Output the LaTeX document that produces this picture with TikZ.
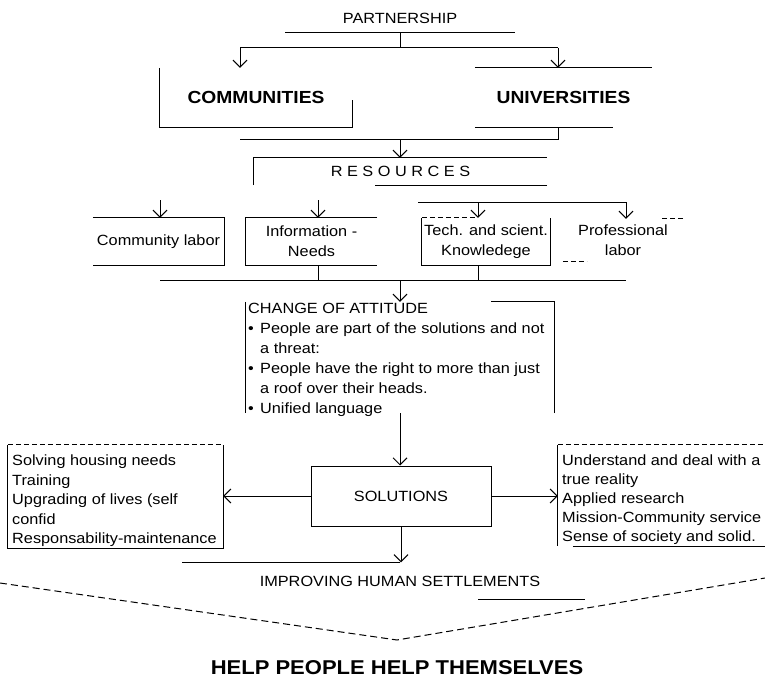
\documentclass[tikz,border=0pt]{standalone}
\usepackage{fontspec}
\setmainfont{Liberation Sans}[FakeStretch=1.1]
\usetikzlibrary{arrows.meta, positioning, calc}
\tikzset{
    wire/.style={line width=1pt, black},
    brokenwire/.style={wire, dash pattern=on 5pt off 3pt},
    linkarrow/.style={wire, -{Straight Barb[length=7pt, width=14pt, line width=1pt]}},
    frame/.style={inner sep=0pt},
    txt/.style={font=\fontsize{14.8}{20}\selectfont, align=center, inner sep=0pt},
    listtxt/.style={font=\fontsize{14.8}{19.5}\selectfont, align=left, inner sep=0pt, anchor=north west},
    heading/.style={font=\fontsize{17.5}{21}\selectfont\bfseries, inner sep=0pt},
}
\newcommand{\attbullet}{\makebox[12pt][l]{\textbullet}}

\begin{document}
\begin{tikzpicture}[x=1pt, y=-1pt]
\fill[white] (0,0) rectangle (765,679);
\useasboundingbox (0,0) rectangle (765,679);

% Partnership and the two partners
\node[txt, minimum width=229pt, minimum height=28pt] (part) at (400,18) {PARTNERSHIP};
\draw[wire] (part.south west) -- (part.south east);

\node[heading, minimum width=192pt, minimum height=59pt] (comm) at (256,97.5) {COMMUNITIES};
\node[heading, minimum width=177pt, minimum height=59pt] (univ) at (563.5,97.5) {UNIVERSITIES};
\draw[wire] (comm.north west) |- (comm.south east) -- ++(0,-27);
\draw[wire] (univ.north west) -- (univ.north east);
\draw[wire] (univ.south west) -- ++(138,0);

\coordinate (lvl1) at (400,48);
\coordinate (lvl1w) at (240,48);
\coordinate (lvl1e) at (558,48);
\draw[wire] (part.south) -- (lvl1);
\draw[wire] (lvl1w) -- (lvl1e);
\draw[linkarrow] (lvl1w) -- (lvl1w |- comm.north);
\draw[linkarrow] (lvl1e) -- (lvl1e |- univ.north);

% Resources
\coordinate (lvl2) at (400,140);
\coordinate (lvl2w) at (240,140);
\coordinate (lvl2e) at (558,140);
\draw[wire] (univ.south -| lvl2e) -- (lvl2e);
\draw[wire] (lvl2w) -- (lvl2e);

\node[txt, minimum width=293pt, minimum height=27pt] (res) at (400.5,171.5) {R E S O U R C E S};
\draw[linkarrow] (lvl2) -- (lvl2 |- res.north);
\draw[wire] (res.south west) |- (res.north east);
\draw[wire] (res.south east) -- ++(-172,0);

% Row of resources
\node[txt, minimum width=131pt, minimum height=47pt] (labor) at (158.5,241.5) {Community labor};
\node[txt, minimum width=131pt, minimum height=47pt] (info) at (311.5,241.5) {Information -\\Needs};
\node[txt, minimum width=128pt, minimum height=47pt] (tech) at (486,241.5) {Tech. and scient.\\Knowledege};
\node[txt, minimum width=120pt, minimum height=42pt] (prof) at (623,240) {Professional\\labor};

\draw[wire] (labor.north west) -- (labor.north east) |- (labor.south west);
\draw[wire] (info.north east) -- (info.north west) |- (info.south east);
\draw[wire] (tech.north west) |- (tech.south east) -- (tech.north east);
\draw[brokenwire] (tech.north west) -- ++(55,0);
\draw[brokenwire] (prof.south west) -- ++(24,0);
\draw[brokenwire] (prof.north east) -- ++(-22,0);

\coordinate (lvl3a) at (160,200);
\coordinate (lvl3b) at (318,200);
\coordinate (lvl3c) at (478,202);
\coordinate (lvl3d) at (626,202);
\draw[wire] (lvl3c) ++(-60,0) -- (lvl3d);
\foreach \c/\n in {lvl3a/labor, lvl3b/info, lvl3c/tech, lvl3d/prof}
    \draw[linkarrow] (\c) -- (\c |- \n.north);

\coordinate (lvl4) at (400,280);
\coordinate (lvl4w) at (160,280);
\coordinate (lvl4e) at (626,280);
\draw[wire] (lvl4w) -- (lvl4e);
\draw[wire] (info.south -| lvl3b) -- (lvl3b |- lvl4);
\draw[wire] (tech.south -| lvl3c) -- (lvl3c |- lvl4);

% Change of attitude
\node[frame, minimum width=308pt, minimum height=111pt] (att) at (400,357.5) {};
\draw[linkarrow] (lvl4) -- (lvl4 |- att.north);
\draw[wire] (att.north west) -- (att.south west);
\draw[wire] (att.south east) -- (att.north east) -- ++(-63,0);
\node[listtxt, font=\fontsize{14.8}{20}\selectfont] (attlist) at (248,303) {CHANGE OF ATTITUDE\\
\attbullet People are part of the solutions and not\\
\hspace*{12pt}a threat:\\
\attbullet People have the right to more than just\\
\hspace*{12pt}a roof over their heads.\\
\attbullet Unified language};

% Solutions and what each partner gains
\node[txt, draw, line width=1pt, minimum width=180pt, minimum height=60pt] (sol) at (401,496) {SOLUTIONS};
\draw[linkarrow] (att.south) -- (att.south |- sol.north);

\node[frame, minimum width=215pt, minimum height=103pt] (need) at (115.5,496.5) {};
\node[listtxt] (needlist) at (12,455) {Solving housing needs\\Training\\Upgrading of lives (self\\confid\\Responsability-maintenance};
\draw[wire] (need.north west) |- (need.south east) -- (need.north east);
\draw[brokenwire] (need.north west) -- (need.north east);
\draw[linkarrow] (sol.west) -- (sol.west -| need.east);

\node[frame, minimum width=210pt, minimum height=101pt] (gain) at (663,495.5) {};
\node[listtxt, font=\fontsize{14.8}{19}\selectfont] (gainlist) at (562,455) {Understand and deal with a\\true reality\\Applied research\\Mission-Community service\\Sense of society and solid.};
\draw[wire] (gain.north west) -- (gain.south west);
\draw[wire] ($(gain.south west)+(15,0)$) -- (gain.south east);
\draw[brokenwire] (gain.north west) -- (gain.north east);
\draw[linkarrow] (sol.east) -- (sol.east -| gain.west);

% Improving human settlements
\node[txt, minimum height=37pt] (impr) at (400,581) {IMPROVING HUMAN SETTLEMENTS};
\draw[linkarrow] (sol.south) -- (sol.south |- impr.north);
\draw[wire] (impr.north) -- ++(-218,0);
\draw[wire] ($(impr.south)+(78,0)$) -- ++(107,0);

\coordinate (vl) at (0,583);
\coordinate (vt) at (397,640);
\coordinate (vr) at (765,578);
\draw[wire, dash pattern=on 7pt off 4pt] (vl) -- (vt) -- (vr);

\node[font=\fontsize{20}{24}\selectfont\bfseries, inner sep=0pt] (motto) at (397,668) {HELP PEOPLE HELP THEMSELVES};

\end{tikzpicture}
\end{document}
